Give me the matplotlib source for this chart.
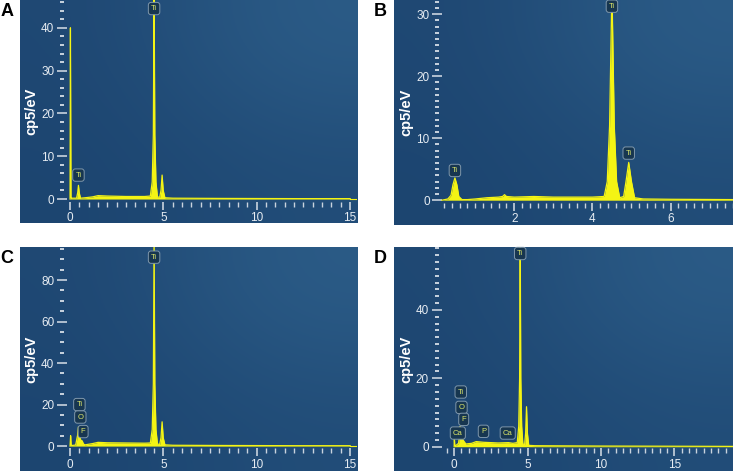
import numpy as np
import matplotlib
matplotlib.use("Agg")
import matplotlib.pyplot as plt
from matplotlib.ticker import FixedLocator

plt.rcParams['font.family'] = ['Liberation Sans', 'DejaVu Sans']

# ---- spectrum vertices (energy keV, counts cp5/eV) ----
a_energy = [0.0, 0.02, 0.05, 0.1, 0.35, 0.41, 0.45, 0.49, 0.56, 0.8, 1.2, 1.5, 2.0,
            3.0, 4.0, 4.3, 4.4, 4.46, 4.5, 4.54, 4.6, 4.68, 4.8, 4.87, 4.93, 4.99,
            5.08, 5.5, 8.0, 12.0, 15.0]
a_counts = [0.0, 40.0, 0.4, 0.2, 0.2, 1.5, 3.2, 1.5, 0.2, 0.3, 0.5, 0.8, 0.7,
            0.6, 0.6, 0.7, 4.0, 15.0, 50.0, 15.0, 4.0, 0.5, 0.4, 2.0, 5.6, 2.0,
            0.3, 0.2, 0.15, 0.1, 0.1]

b_energy = [0.15, 0.3, 0.38, 0.43, 0.48, 0.53, 0.58, 0.66, 0.8, 1.0, 1.3, 1.6, 1.7,
            1.75, 1.8, 2.0, 2.5, 3.0, 3.5, 4.0, 4.3, 4.38, 4.44, 4.5, 4.56, 4.62,
            4.7, 4.8, 4.86, 4.93, 5.0, 5.08, 5.3, 6.0, 7.6]
b_counts = [0.0, 0.2, 0.8, 2.5, 3.6, 2.5, 0.6, 0.1, 0.1, 0.2, 0.4, 0.5, 0.6,
            0.9, 0.6, 0.5, 0.6, 0.5, 0.5, 0.5, 0.6, 3.0, 12.0, 34.0, 12.0, 3.0,
            0.4, 0.6, 3.0, 6.1, 3.0, 0.4, 0.2, 0.15, 0.1]

c_energy = [0.0, 0.03, 0.06, 0.1, 0.3, 0.4, 0.45, 0.5, 0.56, 0.65, 0.72, 0.8, 1.2,
            1.5, 2.0, 3.0, 4.0, 4.3, 4.4, 4.46, 4.5, 4.54, 4.6, 4.68, 4.8, 4.87,
            4.93, 4.99, 5.08, 5.5, 8.0, 12.0, 15.0]
c_counts = [0.0, 5.0, 0.5, 0.3, 0.5, 5.0, 9.3, 6.0, 3.0, 2.5, 1.0, 0.6, 1.2,
            1.8, 1.6, 1.5, 1.4, 1.5, 8.0, 30.0, 100.0, 30.0, 8.0, 1.0, 0.8, 4.0,
            11.7, 4.0, 0.6, 0.4, 0.3, 0.2, 0.2]

d_energy = [0.0, 0.01, 0.04, 0.1, 0.3, 0.36, 0.4, 0.45, 0.52, 0.6, 0.68, 0.8, 1.2,
            1.5, 2.0, 2.5, 3.0, 3.7, 4.0, 4.3, 4.4, 4.46, 4.5, 4.54, 4.6, 4.68,
            4.8, 4.87, 4.93, 4.99, 5.08, 5.5, 10.0, 19.0]
d_counts = [0.0, 3.0, 0.5, 0.3, 1.0, 3.0, 5.9, 4.0, 2.5, 2.0, 1.5, 0.8, 1.0,
            1.5, 1.3, 1.2, 1.1, 1.2, 1.0, 1.2, 6.0, 20.0, 62.0, 20.0, 6.0, 0.8,
            0.6, 4.0, 11.7, 4.0, 0.4, 0.3, 0.2, 0.1]

# element labels: (text, energy, counts)
a_labels = [("Ti", 4.5, 44.5), ("Ti", 0.45, 5.6)]
b_labels = [("Ti", 4.5, 31.3), ("Ti", 4.93, 7.6), ("Ti", 0.48, 4.8)]
c_labels = [("Ti", 4.5, 91.0), ("Ti", 0.5, 20.0), ("O", 0.55, 14.0), ("F", 0.7, 7.0)]
d_labels = [("Ti", 4.5, 56.5), ("Ti", 0.45, 16.0), ("O", 0.5, 11.5), ("F", 0.65, 8.0),
            ("Ca", 0.25, 4.0), ("P", 2.0, 4.5), ("Ca", 3.65, 4.0)]

panels = [
    dict(name="A", rect=[0.0273, 0.5275, 0.4598, 0.4725], x=a_energy, y=a_counts,
         labels=a_labels, xlim=(-2.68, 15.37), ylim=(-5.6, 46.5),
         yspine=-0.43, xspine=-0.6, xmaj=[0, 5, 10, 15], xmin=np.arange(0, 15.01, 0.5),
         ymaj=[0, 10, 20, 30, 40], ymin=np.arange(0, 46.1, 2)),
    dict(name="B", rect=[0.5375, 0.5233, 0.4625, 0.4767], x=b_energy, y=b_counts,
         labels=b_labels, xlim=(-1.08, 7.6), ylim=(-4.0, 32.3),
         yspine=0.03, xspine=-0.45, xmaj=[2, 4, 6], xmin=np.arange(0.2, 7.61, 0.2),
         ymaj=[0, 10, 20, 30], ymin=np.arange(0, 32.1, 1)),
    dict(name="C", rect=[0.0273, 0.0021, 0.4598, 0.4746], x=c_energy, y=c_counts,
         labels=c_labels, xlim=(-2.68, 15.37), ylim=(-12.0, 95.9),
         yspine=-0.43, xspine=-1.1, xmaj=[0, 5, 10, 15], xmin=np.arange(0, 15.01, 0.5),
         ymaj=[0, 20, 40, 60, 80], ymin=np.arange(0, 95.1, 5)),
    dict(name="D", rect=[0.5375, 0.0021, 0.4625, 0.4746], x=d_energy, y=d_counts,
         labels=d_labels, xlim=(-4.1, 19.0), ylim=(-7.1, 58.4),
         yspine=-1.2, xspine=-0.5, xmaj=[0, 5, 10, 15], xmin=np.arange(-0.5, 18.51, 0.5),
         ymaj=[0, 20, 40], ymin=np.arange(0, 58.1, 2)),
]

tick_col = "#c9d3de"
yellow = "#f4f414"

fig = plt.figure(figsize=(7.33, 4.72), dpi=100)

# soft blue gradient like the instrument screen
grad = np.array([[[0.12, 0.28, 0.45], [0.17, 0.36, 0.53]],
                 [[0.11, 0.27, 0.44], [0.13, 0.30, 0.47]]])

for p in panels:
    ax = fig.add_axes(p["rect"])
    ax.imshow(grad, extent=(0, 1, 0, 1), transform=ax.transAxes, aspect="auto",
              interpolation="bicubic", origin="upper", zorder=0)
    ax.fill_between(p["x"], 0, p["y"], color=yellow, lw=0, zorder=2)
    ax.plot(p["x"], p["y"], color=yellow, lw=0.9, zorder=3)
    ax.plot([p["x"][-1], p["xlim"][1]], [p["y"][-1], p["y"][-1]], color=yellow, lw=0.8, zorder=3)

    for txt, ex, cy in p["labels"]:
        ax.text(ex, cy, txt, fontsize=5.5, color="#dfe86a", ha="center", va="center",
                zorder=5,
                bbox=dict(boxstyle="round,pad=0.35", fc="#173650", ec="#7f97ab", lw=0.7))

    ax.set_xlim(p["xlim"])
    ax.set_ylim(p["ylim"])

    ax.spines["left"].set_position(("data", p["yspine"]))
    ax.spines["bottom"].set_position(("data", p["xspine"]))
    for s in ["top", "right", "left", "bottom"]:
        ax.spines[s].set_visible(False)

    ax.xaxis.set_major_locator(FixedLocator(p["xmaj"]))
    ax.xaxis.set_minor_locator(FixedLocator(p["xmin"]))
    ax.yaxis.set_major_locator(FixedLocator(p["ymaj"]))
    ax.yaxis.set_minor_locator(FixedLocator(p["ymin"]))
    ax.tick_params(axis="x", which="major", direction="out", length=6, width=1.2,
                   color=tick_col, labelcolor="#e6ecf2", labelsize=8.5, pad=1.5)
    ax.tick_params(axis="x", which="minor", direction="out", length=3.5, width=1.0,
                   color=tick_col)
    ax.tick_params(axis="y", which="major", direction="inout", length=7, width=1.2,
                   color=tick_col, labelcolor="#e6ecf2", labelsize=8.5, pad=2)
    ax.tick_params(axis="y", which="minor", direction="inout", length=3, width=1.4,
                   color=tick_col)
    ax.set_ylabel("cp5/eV", color="white", fontsize=10.5, fontweight="bold", labelpad=2)

    x0, y0, w, h = p["rect"]
    fig.text(x0 - 0.027, y0 + h - 0.006, p["name"], fontsize=13, fontweight="bold",
             color="black", ha="left", va="top")

fig.savefig("out.png", dpi=100)
